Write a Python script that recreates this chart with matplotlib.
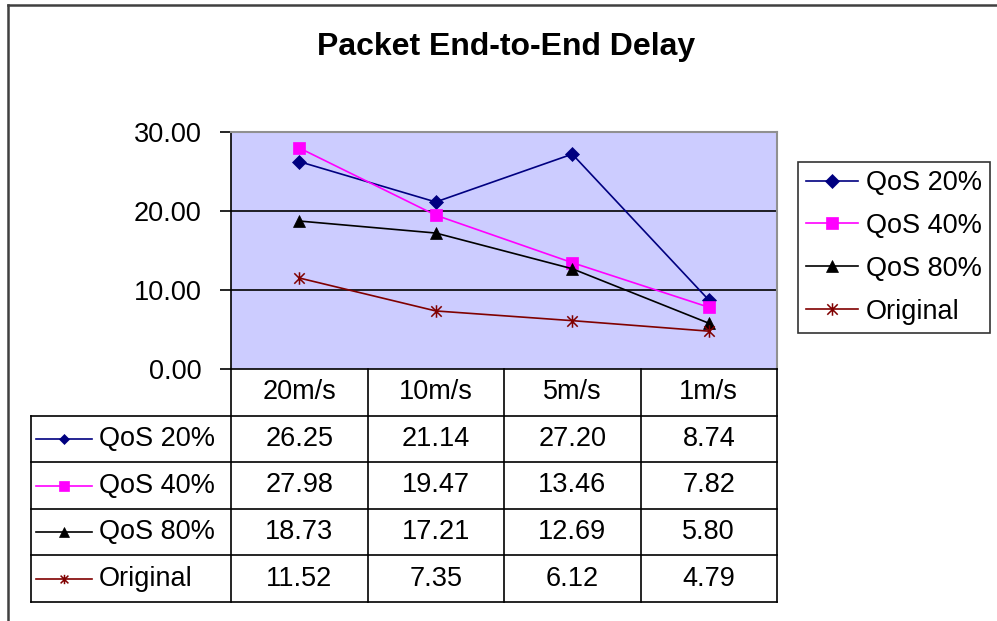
import matplotlib
matplotlib.use("Agg")
import matplotlib.pyplot as plt
from matplotlib.lines import Line2D
from matplotlib.path import Path

# -----------------------------
# Data
# -----------------------------

speeds = ["20m/s", "10m/s", "5m/s", "1m/s"]

qos20 = [26.25, 21.14, 27.20, 8.74]
qos40 = [27.98, 19.47, 13.46, 7.82]
qos80 = [18.73, 17.21, 12.69, 5.80]
original = [11.52, 7.35, 6.12, 4.79]

series_names = ["QoS 20%", "QoS 40%", "QoS 80%", "Original"]
series_values = [qos20, qos40, qos80, original]

y_ticks = [0, 10, 20, 30]

# -----------------------------
# Styles
# -----------------------------

# Excel style "star": an x with a vertical bar through it
star = Path([(-1, -1), (1, 1), (-1, 1), (1, -1), (0, -1.2), (0, 1.2)],
            [Path.MOVETO, Path.LINETO, Path.MOVETO, Path.LINETO, Path.MOVETO, Path.LINETO])

colors = ["#000080", "#FF00FF", "#000000", "#800000"]
markers = ["D", "s", "^", star]
msizes = [7, 9, 9, 9]
fs = 19.5

plt.rcParams["font.family"] = ["Liberation Sans", "DejaVu Sans"]

W, H = 997, 621
fig = plt.figure(figsize=(W / 100, H / 100), dpi=100)


def fx(px):
    return px / W


def fy(py):
    return 1 - py / H


def marker_kw(c, m, ms):
    if m is star:
        return dict(marker=m, markersize=ms, markerfacecolor="none",
                    markeredgecolor=c, markeredgewidth=1.1)
    return dict(marker=m, markersize=ms, markerfacecolor=c,
                markeredgecolor=c, markeredgewidth=0.5)


# outer chart frame (left and top edges visible)
fig.add_artist(Line2D([fx(8), fx(8)], [fy(5), 0], color="#404040", lw=1.8))
fig.add_artist(Line2D([fx(8), 1], [fy(5), fy(5)], color="#404040", lw=1.8))

# -----------------------------
# Plot area
# -----------------------------

plot_l, plot_r, plot_t, plot_b = 231, 777, 132, 369
ax = fig.add_axes([fx(plot_l), fy(plot_b), fx(plot_r - plot_l), fy(plot_t) - fy(plot_b)])
ax.set_facecolor("#CCCCFF")

x = [i + 0.5 for i in range(len(speeds))]
for name, vals, c, m, ms in zip(series_names, series_values, colors, markers, msizes):
    ax.plot(x, vals, color=c, lw=1.2, label=name, zorder=3, **marker_kw(c, m, ms))

ax.set_xlim(0, len(speeds))
ax.set_ylim(0, 30)
ax.set_yticks(y_ticks)
ax.set_yticklabels([f"{v:.2f}" for v in y_ticks], fontsize=fs)
ax.set_xticks([])
for v in y_ticks[1:-1]:
    ax.axhline(v, color="black", lw=1.2, zorder=1)
ax.tick_params(axis="y", length=8, width=1.2, pad=13, direction="out")
for side in ["top", "right"]:
    ax.spines[side].set_color("#909090")
    ax.spines[side].set_linewidth(1.5)
ax.spines["left"].set_linewidth(1.2)
ax.spines["bottom"].set_linewidth(1.2)

# title
fig.text(fx(506), fy(47), "Packet End-to-End Delay", ha="center", va="center",
         fontsize=23, fontweight="bold")

# legend
leg = ax.legend(loc="upper left", bbox_to_anchor=(fx(798), fy(162)),
                bbox_transform=fig.transFigure, fontsize=fs, frameon=True,
                fancybox=False, edgecolor="black", handlelength=1.9,
                handletextpad=0.3, borderpad=0.3, labelspacing=0.62,
                borderaxespad=0)
leg.get_frame().set_linewidth(1.2)

# -----------------------------
# Data table below the plot
# -----------------------------

tab_l, tab_b = 31, 602
label_w = (plot_l - tab_l) / ((plot_r - plot_l) / len(speeds))
tax = fig.add_axes([fx(tab_l), fy(tab_b), fx(plot_r - tab_l), fy(plot_b) - fy(tab_b)])
tax.set_xlim(-label_w, len(speeds))
n_rows = len(series_names) + 1
tax.set_ylim(n_rows, 0)
tax.axis("off")

lk = dict(color="black", lw=1.2, clip_on=False)
# vertical lines
for i in range(len(speeds) + 1):
    tax.plot([i, i], [0, n_rows], **lk)
tax.plot([-label_w, -label_w], [1, n_rows], **lk)
# horizontal lines
for r in range(1, n_rows + 1):
    tax.plot([-label_w, len(speeds)], [r, r], **lk)

# header
for i, s in enumerate(speeds):
    tax.text(i + 0.5, 0.5, s, ha="center", va="center", fontsize=fs)

# rows
for r, (name, vals, c, m, ms) in enumerate(zip(series_names, series_values, colors, markers, msizes)):
    yr = r + 1.5
    x0 = -label_w + 0.04
    x1 = -label_w + 0.45
    tax.plot([x0, x1], [yr, yr], color=c, lw=1.2, clip_on=False)
    tax.plot([(x0 + x1) / 2], [yr], clip_on=False, **marker_kw(c, m, ms * 0.75))
    tax.text(x1 + 0.05, yr, name, ha="left", va="center", fontsize=fs)
    for i, v in enumerate(vals):
        tax.text(i + 0.5, yr, f"{v:.2f}", ha="center", va="center", fontsize=fs)

fig.savefig("out.png", dpi=100)
